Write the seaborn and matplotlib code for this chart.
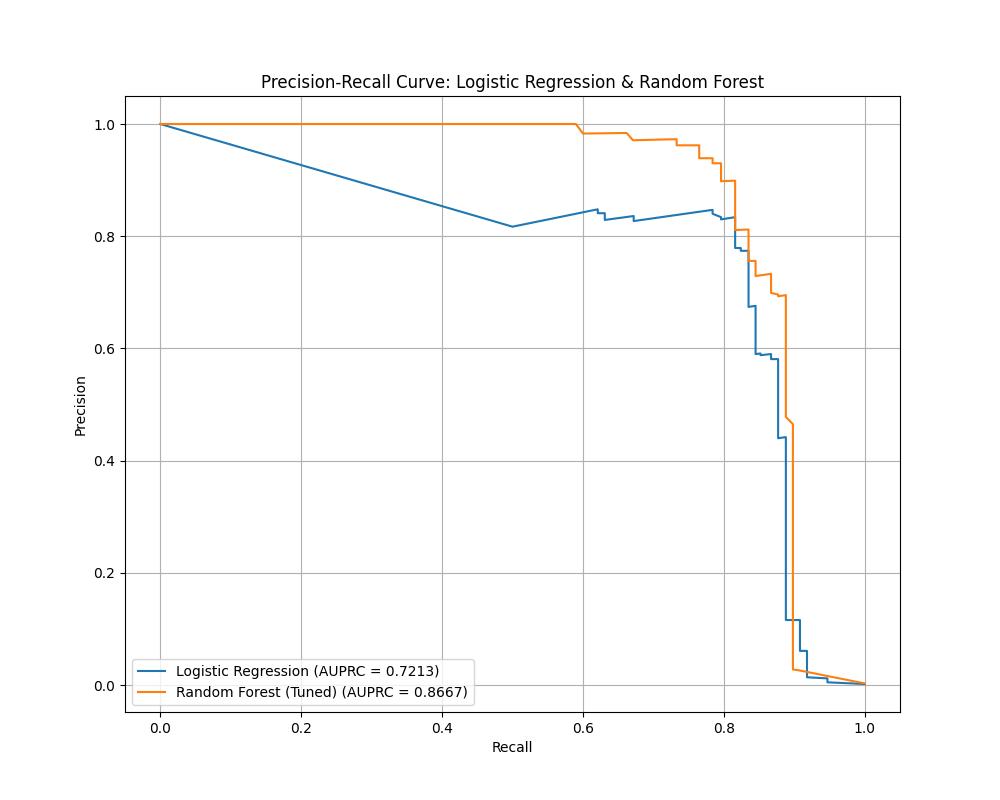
import matplotlib
matplotlib.use("Agg")
import matplotlib.pyplot as plt
import seaborn as sns
import pandas as pd

# precision-recall points (recall increasing)
lr_recall = [0.0, 0.50, 0.621, 0.621, 0.631, 0.631, 0.672, 0.672, 0.784, 0.784, 0.796, 0.796,
             0.816, 0.816, 0.824, 0.824, 0.835, 0.835, 0.845, 0.845, 0.852, 0.852, 0.867, 0.867,
             0.877, 0.877, 0.888, 0.888, 0.908, 0.908, 0.918, 0.918, 0.947, 0.947, 1.0]
lr_prec = [1.0, 0.817, 0.848, 0.841, 0.841, 0.829, 0.836, 0.827, 0.847, 0.840, 0.834, 0.830,
           0.834, 0.779, 0.779, 0.774, 0.774, 0.674, 0.676, 0.590, 0.591, 0.588, 0.590, 0.581,
           0.581, 0.440, 0.442, 0.116, 0.116, 0.061, 0.061, 0.014, 0.012, 0.005, 0.002]

rf_recall = [0.0, 0.590, 0.600, 0.662, 0.671, 0.733, 0.733, 0.765, 0.765, 0.784, 0.784, 0.796,
             0.796, 0.816, 0.816, 0.835, 0.835, 0.845, 0.845, 0.867, 0.867, 0.877, 0.877, 0.888,
             0.888, 0.898, 0.898, 0.908, 1.0]
rf_prec = [1.0, 1.0, 0.983, 0.984, 0.971, 0.973, 0.962, 0.962, 0.939, 0.939, 0.930, 0.930,
           0.898, 0.899, 0.811, 0.812, 0.756, 0.756, 0.729, 0.733, 0.699, 0.696, 0.693, 0.695,
           0.478, 0.465, 0.028, 0.026, 0.003]

lr_label = "Logistic Regression (AUPRC = 0.7213)"
rf_label = "Random Forest (Tuned) (AUPRC = 0.8667)"

df = pd.concat([
    pd.DataFrame({"Recall": lr_recall, "Precision": lr_prec, "model": lr_label}),
    pd.DataFrame({"Recall": rf_recall, "Precision": rf_prec, "model": rf_label}),
])

fig, ax = plt.subplots(figsize=(10, 8), dpi=100)
sns.lineplot(data=df, x="Recall", y="Precision", hue="model", sort=False, estimator=None,
             palette=["#1f77b4", "#ff7f0e"], linewidth=1.5, ax=ax)
ax.set_title("Precision-Recall Curve: Logistic Regression & Random Forest")
ax.set_xlabel("Recall")
ax.set_ylabel("Precision")
ax.grid(True)
ax.legend(loc="lower left", title=None)
fig.savefig("out.png")
